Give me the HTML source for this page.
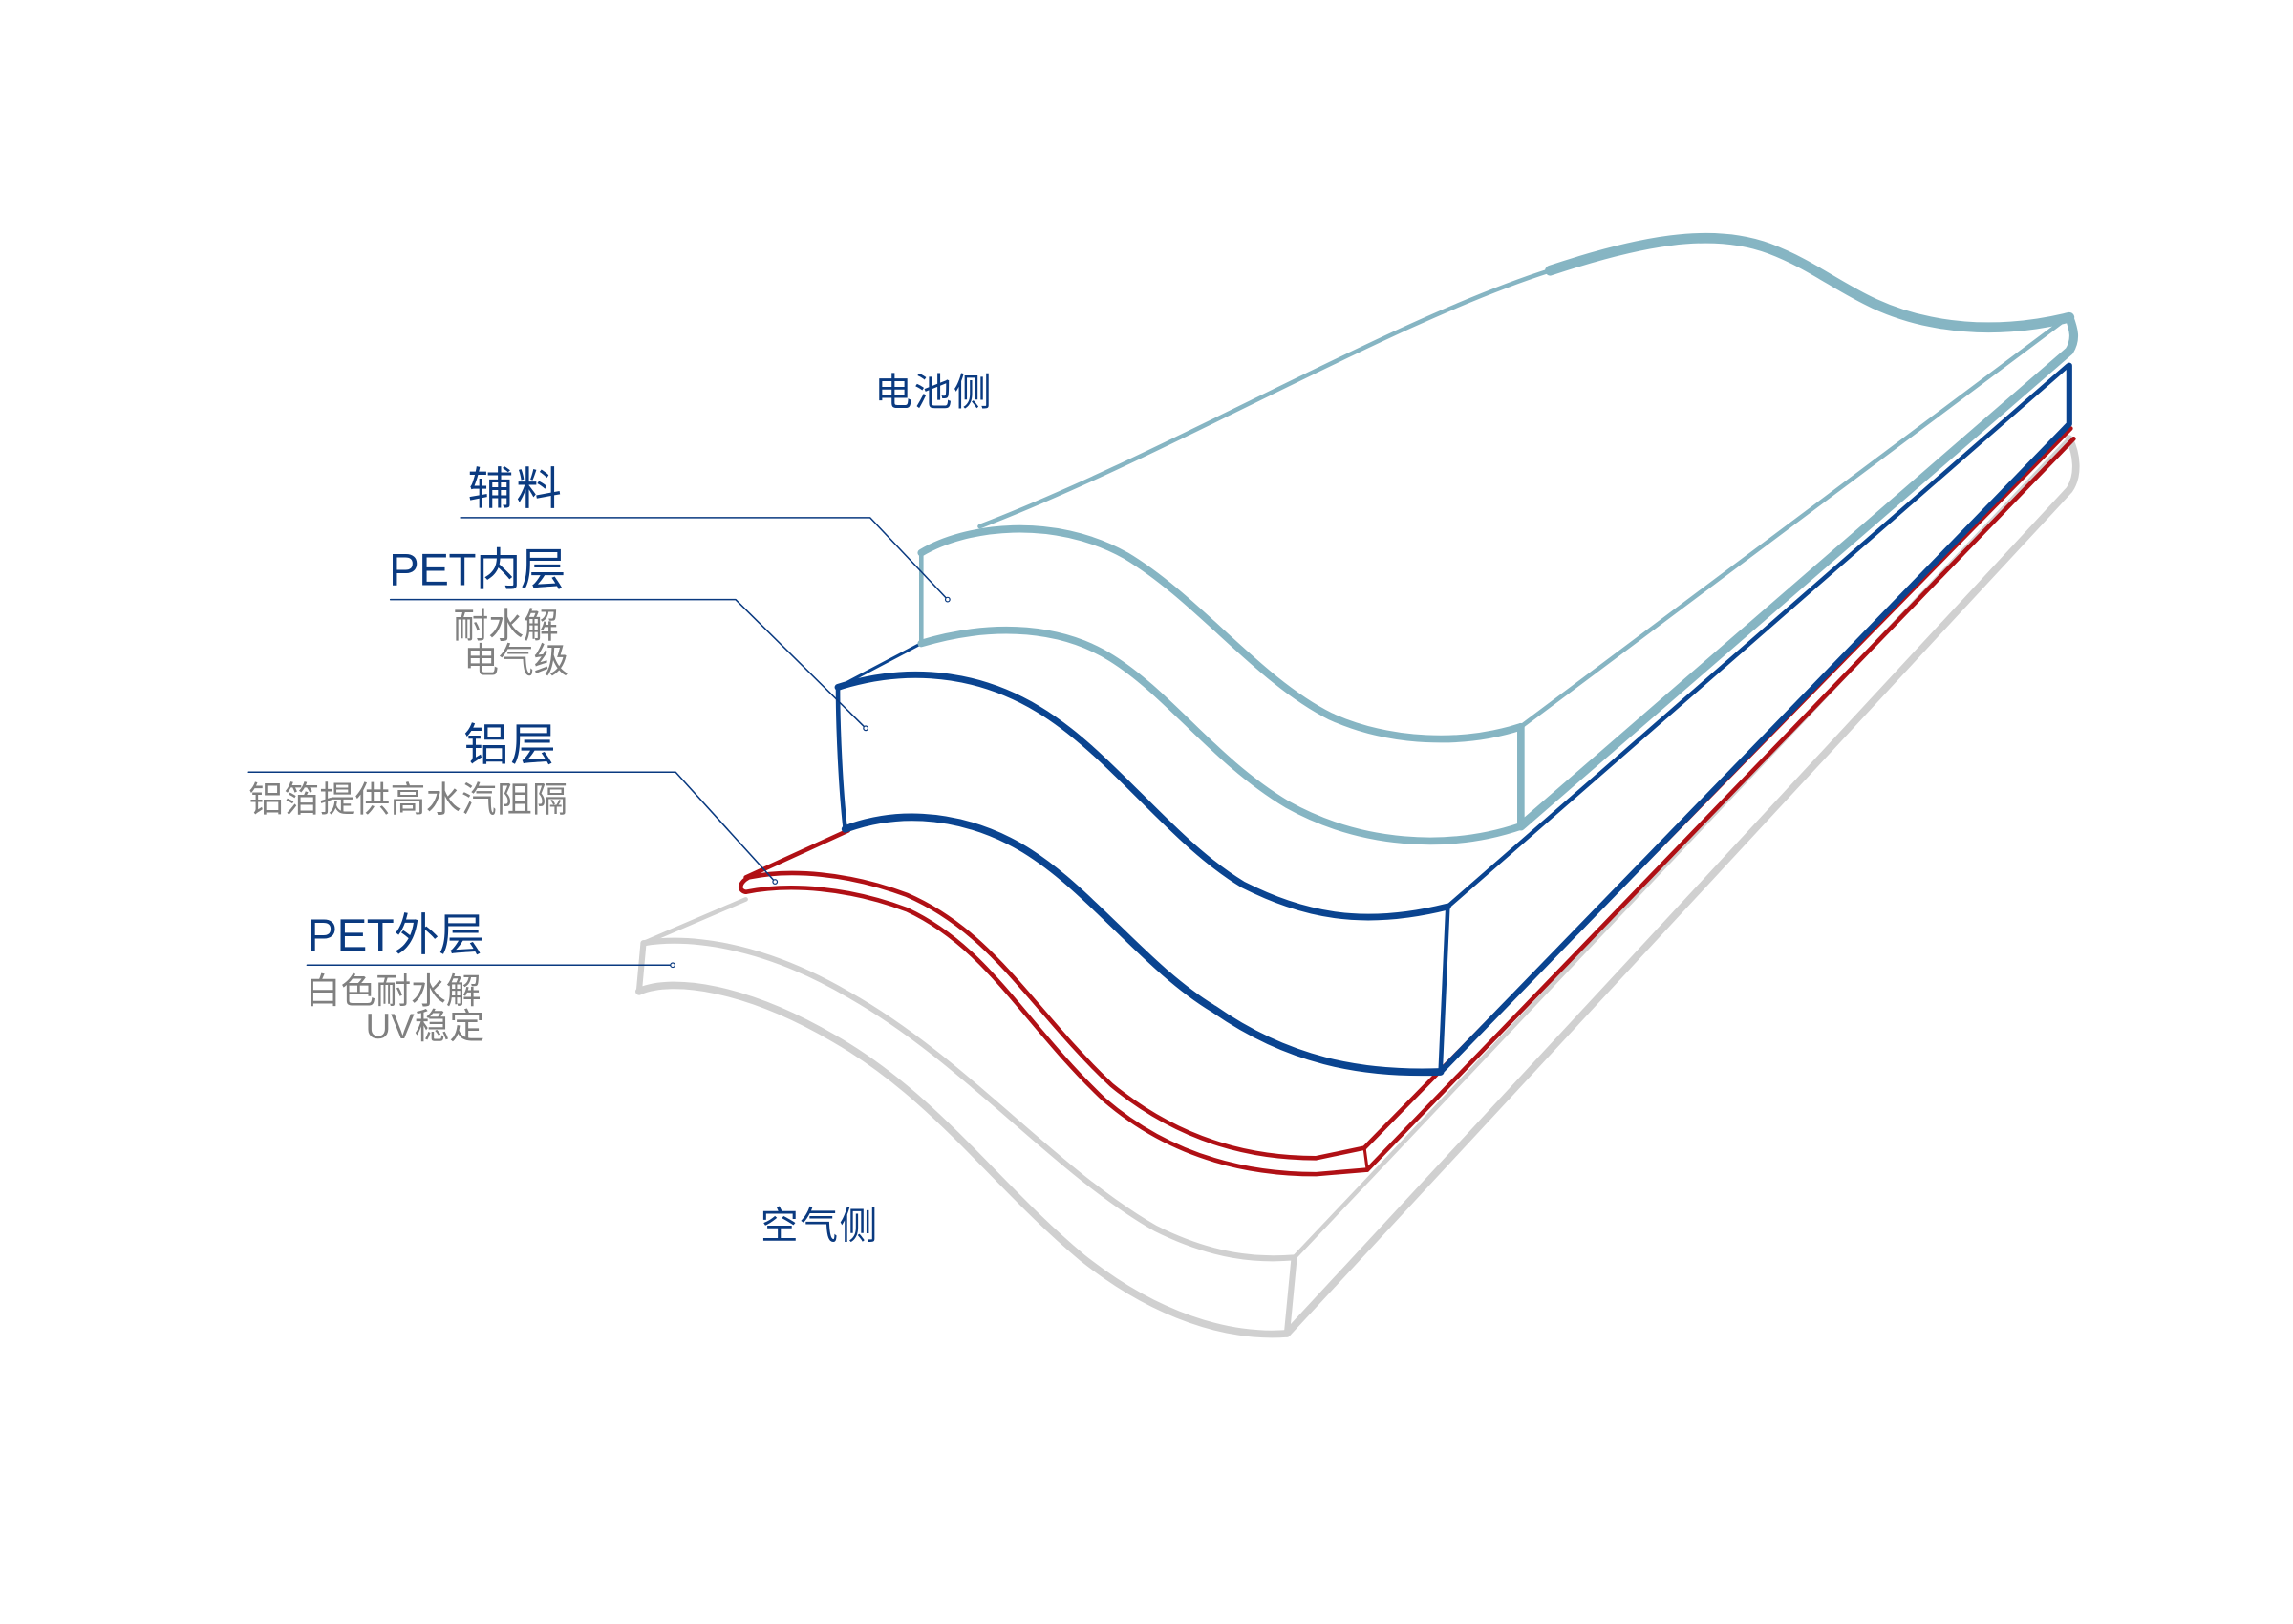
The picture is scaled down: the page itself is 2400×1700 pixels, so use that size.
<!DOCTYPE html>
<html><head><meta charset="utf-8"><style>
html,body{margin:0;padding:0;background:#fff;width:2400px;height:1700px;overflow:hidden}
svg{display:block}
text{font-family:"Liberation Sans","Noto Sans CJK SC",sans-serif}
</style></head><body>
<svg width="2400" height="1700" viewBox="0 0 1568 1110.6" xmlns="http://www.w3.org/2000/svg" fill="none" stroke-linecap="round" stroke-linejoin="round">
<!-- grey layer -->
<g stroke="#d0d0d0">
<path d="M440,645 L510,615" stroke-width="3"/>
<path d="M440,645 C470,640 520,645 580,680 C660,725 720,800 790,840 C830,860 860,862 885,860" stroke-width="4"/>
<path d="M440,645 L437,678" stroke-width="4"/>
<path d="M437,678 C460,668 510,675 570,710 C640,750 680,810 740,860 C790,900 840,915 880,912" stroke-width="5"/>
<path d="M885,860 L880,912" stroke-width="4"/>
<path d="M885,860 L1415,300" stroke-width="3"/>
<path d="M880,912 L1415,335 C1422,325 1420,310 1415,300" stroke-width="5"/>
</g>
<!-- red layer -->
<g stroke="#b01015">
<path d="M510,600 L580,568" stroke-width="3"/>
<path d="M512,600 C540,594 580,597 620,612 C680,638 705,690 760,742 C810,783 860,792 900,792 L933,785" stroke-width="3"/>
<path d="M510,610 C540,604 580,607 620,622 C676,648 700,700 755,752 C805,795 860,803 900,803 L935,800" stroke-width="3"/>
<path d="M512,600 C505,604 505,609 510,610" stroke-width="3"/>
<path d="M933,785 L935,800" stroke-width="2"/>
<path d="M933,785 L1416,293" stroke-width="3"/>
<path d="M935,800 L1418,300" stroke-width="3"/>
</g>
<!-- dark blue layer -->
<g stroke="#0a4490">
<path d="M573,470 L630,440" stroke-width="2"/>
<path d="M573,470 C610,458 660,455 710,485 C760,515 800,575 850,605 C890,625 930,635 990,620" stroke-width="4.5"/>
<path d="M573,470 C573,500 575,540 578,567" stroke-width="3"/>
<path d="M578,567 C610,555 650,555 690,575 C740,600 780,660 830,690 C880,725 930,735 985,733" stroke-width="5"/>
<path d="M990,620 L985,733" stroke-width="3"/>
<path d="M990,620 L1414,250" stroke-width="3"/>
<path d="M985,733 L1415,290 L1415,250" stroke-width="4"/>
</g>
<!-- light blue layer -->
<g stroke="#86b5c3">
<path d="M670,360 C800,310 950,220 1060,185 C1120,165 1170,155 1210,170 C1250,185 1270,210 1320,220 C1360,228 1395,222 1415,217" stroke-width="3"/>
<path d="M1060,185 C1120,165 1170,155 1210,170 C1250,185 1270,210 1320,220 C1360,228 1395,222 1415,217" stroke-width="7"/>
<path d="M630,378 C660,360 720,352 770,380 C820,410 860,465 910,490 C950,508 1000,510 1040,497" stroke-width="5"/>
<path d="M630,378 L630,440" stroke-width="3"/>
<path d="M630,440 C670,428 720,425 760,450 C800,475 830,520 880,550 C930,578 990,582 1040,565" stroke-width="5"/>
<path d="M1040,497 L1040,565" stroke-width="5"/>
<path d="M1040,497 L1410,220" stroke-width="3"/>
<path d="M1040,565 L1415,240 C1420,232 1418,225 1415,217" stroke-width="6"/>
</g>
<!-- leader lines -->
<g stroke="#0a3a80" stroke-width="1">
<path d="M315,354 L595,354 L648,410"/>
<path d="M267,410 L503,410 L592,498"/>
<path d="M170,528 L462,528 L530,603"/>
<path d="M210,660 L460,660"/>
</g>
<g fill="#fff" stroke="#0a3a80" stroke-width="0.8">
<circle cx="648" cy="410" r="1.5"/><circle cx="592" cy="498" r="1.5"/><circle cx="530" cy="603" r="1.5"/><circle cx="460" cy="660" r="1.5"/>
</g>
<!-- labels -->
<g fill="#0a3a80" stroke="none">
<text x="598" y="277" font-size="26" textLength="80">电池侧</text>
<text x="320" y="345" font-size="31" textLength="64">辅料</text>
<text x="266" y="400" font-size="31" textLength="121">PET内层</text>
<text x="317" y="520" font-size="31" textLength="63">铝层</text>
<text x="210" y="650" font-size="31" textLength="121">PET外层</text>
<text x="520" y="847" font-size="26" textLength="80">空气侧</text>
</g>
<g fill="#808080" stroke="none" font-size="24">
<text x="310" y="436">耐水解</text>
<text x="317" y="460">电气级</text>
<text x="170" y="555" textLength="218">铝箔提供高水汽阻隔</text>
<text x="209" y="686">白色耐水解</text>
<text x="250" y="710">UV稳定</text>
</g>
</svg>
</body></html>
